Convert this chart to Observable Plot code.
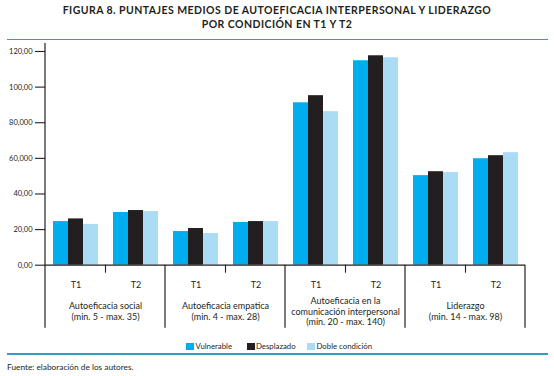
<!DOCTYPE html>
<html>
<head>
<meta charset="utf-8">
<script src="https://cdn.jsdelivr.net/npm/d3@7"></script>
<script src="https://cdn.jsdelivr.net/npm/@observablehq/plot@0.6"></script>
<style>
  html, body { margin: 0; padding: 0; background: #fff; }
  body { width: 554px; height: 376px; overflow: hidden; font-family: Lato, "Open Sans", sans-serif; color: #231f20; }
  #title { height: 34.5px; padding-top: 4px; text-align: center; font-weight: bold; font-size: 10.5px; line-height: 13.5px; letter-spacing: 0.45px; }
  .rule { margin: 0 6px 0 7px; height: 1.5px; background: #2f9dc4; }
  #chart { height: 290px; }
  #chart svg { display: block; }
  #legend { height: 23px; position: relative; font-size: 7.8px; }
  .item { position: absolute; top: 11px; display: flex; align-items: center; }
  .sw { width: 8px; height: 7px; margin-right: 1.5px; }
  #source { font-size: 8.3px; padding: 7px 0 0 7px; }
</style>
</head>
<body>
<div id="title">FIGURA 8. PUNTAJES MEDIOS DE AUTOEFICACIA INTERPERSONAL Y LIDERAZGO<br>POR CONDICIÓN EN T1 Y T2</div>
<div class="rule" style="margin-top:0"></div>
<div id="chart"></div>
<div id="legend"></div>
<div class="rule"></div>
<div id="source">Fuente: elaboración de los autores.</div>
<script>
// ---- data ----
const groups = ["Autoeficacia social", "Autoeficacia empatica", "Autoeficacia en la comunicación", "Liderazgo"];
const groupLabels = [
  "Autoeficacia social\n(min. 5 - max. 35)",
  "Autoeficacia empatica\n(min. 4 - max. 28)",
  "Autoeficacia en la\ncomunicación interpersonal\n(min. 20 - max. 140)",
  "Liderazgo\n(min. 14 - max. 98)"
];
const times = ["T1", "T2"];
const series = ["Vulnerable", "Desplazado", "Doble condición"];
const colors = ["#00aeef", "#231f20", "#abdcf6"];
// values per group: [T1, T2]
const vulnerable = [24.5, 29.6, 18.9, 24.0, 91.2, 114.8, 50.3, 59.8];
const desplazado = [26.0, 30.7, 20.6, 24.5, 95.2, 117.6, 52.5, 61.5];
const doble      = [22.9, 30.1, 17.8, 24.5, 86.2, 116.5, 52.0, 63.2];
const yTicks = [0, 20, 40, 60, 80, 100, 120];
const yTickLabels = ["0,00", "20,00", "40,00", "60,000", "80,000", "100,00", "120,00"];

// ---- table ----
const seriesValues = [vulnerable, desplazado, doble];
const rows = [];
groups.forEach((g, gi) => times.forEach((t, ti) => series.forEach((s, si) => {
  rows.push({group: g, time: t, series: s, key: t + "|" + s, value: seriesValues[si][gi * 2 + ti]});
})));
const xDomain = [...series.map(s => "T1|" + s), "gap", ...series.map(s => "T2|" + s)];
const groupData = groups.map((g, i) => ({group: g, label: groupLabels[i]}));

const ink = "#231f20";
const chart = Plot.plot({
  width: 554,
  height: 290,
  marginLeft: 45,
  marginRight: 29,
  marginTop: 11,
  marginBottom: 65.3,
  style: {fontFamily: "Lato, 'Open Sans', sans-serif", color: ink, background: "transparent"},
  fx: {domain: groups, padding: 0, axis: null},
  x: {domain: xDomain, paddingInner: 0, paddingOuter: 0.5, axis: null},
  y: {domain: [0, 120], axis: null},
  color: {domain: series, range: colors},
  marks: [
    Plot.barY(rows, {fx: "group", x: "key", y: "value", fill: "series"}),
    Plot.ruleY([0], {stroke: ink, strokeWidth: 1.2}),
    Plot.axisY({ticks: yTicks, tickFormat: (d, i) => yTickLabels[yTicks.indexOf(d)], tickSize: 10, tickPadding: 3, fontSize: 7.5, stroke: ink, strokeWidth: 1.1, label: null}),
    Plot.axisFx({anchor: "bottom", tickSize: 8, tickFormat: () => "", stroke: ink, strokeWidth: 1.1, label: null}),
    Plot.axisX({ticks: ["T1|Desplazado", "T2|Desplazado"], tickFormat: d => d.split("|")[0], tickSize: 0, tickPadding: 16, fontSize: 9, label: null}),
    Plot.text(groupData, {fx: "group", text: "label", frameAnchor: "bottom", dy: 46, lineAnchor: "middle", lineHeight: 1.2, fontSize: 9, fill: ink})
  ]
});
document.getElementById("chart").appendChild(chart);

// group separators drawn from the library's fx and y scales
const fx = chart.scale("fx");
const ys = chart.scale("y");
const y0 = ys.apply(0), yTop = ys.apply(120);
const edges = [...groups.map(g => fx.apply(g)), fx.apply(groups[groups.length - 1]) + fx.bandwidth];
const sep = d3.select(chart).append("g").attr("stroke", ink).attr("stroke-width", 1.2);
edges.forEach((x, i) => {
  sep.append("line").attr("x1", x).attr("x2", x)
    .attr("y1", i === 0 ? yTop - 8 : y0).attr("y2", y0 + 63);
});

// legend
const legend = document.getElementById("legend");
series.forEach((s, i) => {
  const it = document.createElement("div");
  it.className = "item";
  it.style.left = (186 + i * 60.5) + "px";
  it.innerHTML = `<span class="sw" style="background:${colors[i]}"></span><span>${s}</span>`;
  legend.appendChild(it);
});
</script>
</body>
</html>
